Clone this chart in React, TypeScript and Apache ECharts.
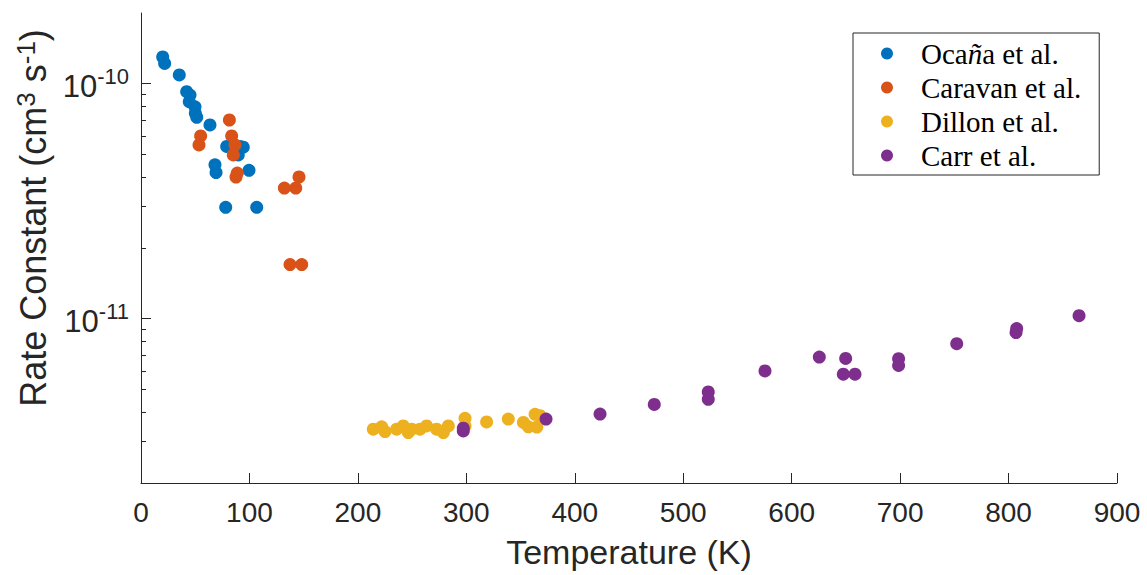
import React, { useEffect, useRef } from "react";
import * as echarts from "echarts";

const ocanaT = [20.0, 21.8, 35.3, 42.1, 45.2, 44.5, 49.8, 50.1, 51.4, 63.6, 79.0, 91.3, 94.3, 89.7, 68.2, 69.2, 99.6, 78.1, 106.7];
const ocanaK = [1.30e-10, 1.22e-10, 1.09e-10, 9.25e-11, 8.95e-11, 8.39e-11, 7.98e-11, 7.48e-11, 7.20e-11, 6.68e-11, 5.41e-11, 5.41e-11, 5.37e-11, 4.98e-11, 4.52e-11, 4.19e-11, 4.28e-11, 2.98e-11, 2.98e-11];

const caravanT = [81.5, 55.0, 53.5, 83.6, 86.7, 85.1, 88.8, 87.6, 132.2, 142.7, 145.7, 137.4, 148.2];
const caravanK = [7.01e-11, 6.00e-11, 5.49e-11, 6.00e-11, 5.49e-11, 4.98e-11, 4.17e-11, 4.01e-11, 3.60e-11, 3.60e-11, 4.01e-11, 1.70e-11, 1.70e-11];

const dillonT = [214.2, 221.9, 225.0, 235.7, 241.8, 246.5, 249.6, 257.3, 263.4, 272.6, 278.8, 283.4, 298.8, 298.8, 318.7, 338.7, 352.6, 357.2, 363.4, 365.0, 368.0];
const dillonK = [3.39e-12, 3.47e-12, 3.31e-12, 3.39e-12, 3.50e-12, 3.28e-12, 3.39e-12, 3.39e-12, 3.50e-12, 3.39e-12, 3.28e-12, 3.50e-12, 3.77e-12, 3.50e-12, 3.64e-12, 3.74e-12, 3.62e-12, 3.47e-12, 3.92e-12, 3.46e-12, 3.87e-12];

const carrT = [297.2, 297.2, 373.5, 423.3, 473.3, 523.1, 523.1, 575.4, 625.5, 649.8, 647.6, 658.4, 698.6, 698.6, 752.2, 807.5, 806.9, 865.0];
const carrK = [3.33e-12, 3.42e-12, 3.74e-12, 3.93e-12, 4.32e-12, 4.88e-12, 4.54e-12, 6.00e-12, 6.87e-12, 6.78e-12, 5.81e-12, 5.81e-12, 6.76e-12, 6.33e-12, 7.83e-12, 9.08e-12, 8.73e-12, 1.03e-11];

const seriesNames = ["Ocaña et al.", "Caravan et al.", "Dillon et al.", "Carr et al."];
const colors = ["#0072BD", "#D95319", "#EDB120", "#7E2F8E"];

const xTicks = [0, 900, 100]; // min, max, interval
const yMinK = 2e-12;
const yMaxK = 2e-10;
const majorK = [1e-11, 1e-10];
const minorK = [3e-12, 4e-12, 5e-12, 6e-12, 7e-12, 8e-12, 9e-12, 2e-11, 3e-11, 4e-11, 5e-11, 6e-11, 7e-11, 8e-11, 9e-11];

const axisColor = "#262626";
const sans = "'Liberation Sans', Arial, Helvetica, sans-serif";
const serif = "'Liberation Serif', 'Times New Roman', serif";

function pairs(t: number[], k: number[]) {
  return t.map((x, i) => [x, Math.log10(k[i])]);
}

export default function App() {
  const ref = useRef<HTMLDivElement>(null);
  useEffect(() => {
    if (!ref.current) return;
    const chart = echarts.init(ref.current, null, { renderer: "svg" });
    const yMin = Math.log10(yMinK);
    const yMax = Math.log10(yMaxK);
    const dataSets = [pairs(ocanaT, ocanaK), pairs(caravanT, caravanK), pairs(dillonT, dillonK), pairs(carrT, carrK)];
    chart.setOption({
      animation: false,
      backgroundColor: "#ffffff",
      grid: { left: 141, top: 13, right: 30, bottom: 92, containLabel: false },
      legend: {
        orient: "vertical",
        left: 853,
        top: 33,
        padding: [6, 18, 5, 28],
        itemGap: 5,
        itemWidth: 12,
        itemHeight: 12,
        icon: "circle",
        borderColor: axisColor,
        borderWidth: 1,
        backgroundColor: "#ffffff",
        data: seriesNames,
        formatter: (name: string) => (name === "Ocaña et al." ? "Oca{it|ñ}a et al." : name),
        textStyle: {
          fontFamily: serif,
          fontSize: 29,
          color: "#000000",
          padding: [0, 0, 0, 23],
          rich: {
            it: { fontFamily: serif, fontSize: 29, fontStyle: "italic", color: "#000000" },
          },
        },
      },
      xAxis: {
        type: "value",
        min: xTicks[0],
        max: xTicks[1],
        interval: xTicks[2],
        name: "Temperature (K)",
        nameLocation: "middle",
        nameGap: 52,
        nameTextStyle: { fontFamily: sans, fontSize: 34, color: axisColor },
        axisLine: { lineStyle: { color: axisColor, width: 1 } },
        axisTick: { inside: true, length: 10, lineStyle: { color: axisColor } },
        axisLabel: { fontFamily: sans, fontSize: 28, color: axisColor, margin: 15 },
        splitLine: { show: false },
      },
      yAxis: [
        {
          type: "value",
          min: yMin,
          max: yMax,
          name: "Rate Constant (cm{s|3} s{s|-1})",
          nameLocation: "middle",
          nameGap: 84,
          nameTextStyle: {
            fontFamily: sans,
            fontSize: 36,
            color: axisColor,
            padding: [0, 0, 0, 60],
            rich: {
              s: { fontFamily: sans, fontSize: 26, color: axisColor, verticalAlign: "bottom", padding: [0, 0, 16, 0] },
            },
          },
          axisLine: { lineStyle: { color: axisColor, width: 1 } },
          axisTick: { inside: true, length: 10, lineStyle: { color: axisColor }, customValues: majorK.map((v) => Math.log10(v)) },
          axisLabel: {
            customValues: majorK.map((v) => Math.log10(v)),
            margin: 12,
            formatter: (v: number) => `{b|10}{s|${Math.round(v)}}`,
            rich: {
              b: { fontFamily: sans, fontSize: 31, color: axisColor, verticalAlign: "bottom" },
              s: { fontFamily: sans, fontSize: 22, color: axisColor, verticalAlign: "bottom", padding: [0, 0, 15, 0] },
            },
          },
          splitLine: { show: false },
        },
        {
          type: "value",
          min: yMin,
          max: yMax,
          position: "left",
          axisLine: { show: false },
          axisTick: { inside: true, length: 5, lineStyle: { color: axisColor }, customValues: minorK.map((v) => Math.log10(v)) },
          axisLabel: { show: false },
          splitLine: { show: false },
        },
      ],
      series: dataSets.map((d, i) => ({
        name: seriesNames[i],
        type: "scatter",
        yAxisIndex: 0,
        symbol: "circle",
        symbolSize: 13,
        itemStyle: { color: colors[i], opacity: 1 },
        data: d,
      })),
    });
    return () => chart.dispose();
  }, []);
  return <div ref={ref} style={{ position: "fixed", left: 0, top: 0, width: 1147, height: 575, background: "#fff" }} />;
}
